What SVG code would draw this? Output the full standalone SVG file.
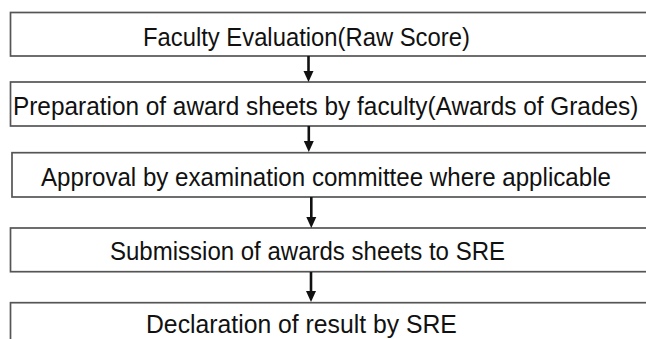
<svg xmlns="http://www.w3.org/2000/svg" width="646" height="339" viewBox="0 0 646 339">
<style>
.box{fill:#fff;stroke:#555;stroke-width:1.7}
.t{font-family:"Liberation Sans",Arial,sans-serif;font-size:26px;fill:#111}
.c{stroke:#111;stroke-width:2.6}
.h{fill:#111}
</style>
<rect width="646" height="339" fill="#fff"/>
<g id="n1"><rect class="box" x="10.5" y="12.5" width="660" height="43.5"/><text class="t" transform="translate(143,45.5) scale(0.916,1)">Faculty Evaluation(Raw Score)</text></g>
<g id="n2"><rect class="box" x="10.5" y="82" width="660" height="44"/><text class="t" transform="translate(13,115) scale(0.938,1)">Preparation of award sheets by faculty(Awards of Grades)</text></g>
<g id="n3"><rect class="box" x="12" y="152.7" width="660" height="44.3"/><text class="t" transform="translate(41,185.5) scale(0.928,1)">Approval by examination committee where applicable</text></g>
<g id="n4"><rect class="box" x="10.5" y="228" width="660" height="43.7"/><text class="t" transform="translate(110,260) scale(0.924,1)">Submission of awards sheets to SRE</text></g>
<g id="n5"><rect class="box" x="10.5" y="302.7" width="660" height="50"/><text class="t" transform="translate(146,333) scale(0.952,1)">Declaration of result by SRE</text></g>
<g id="connectors">
<line class="c" x1="308.5" y1="56" x2="308.5" y2="72"/><polygon class="h" points="303.5,71 313.5,71 308.5,82"/>
<line class="c" x1="308.8" y1="126" x2="308.8" y2="142"/><polygon class="h" points="303.8,141 313.8,141 308.8,152"/>
<line class="c" x1="311.3" y1="197" x2="311.3" y2="218"/><polygon class="h" points="306.3,217 316.3,217 311.3,228"/>
<line class="c" x1="311" y1="272" x2="311" y2="292"/><polygon class="h" points="306,291 316,291 311,302"/>
</g>
</svg>
